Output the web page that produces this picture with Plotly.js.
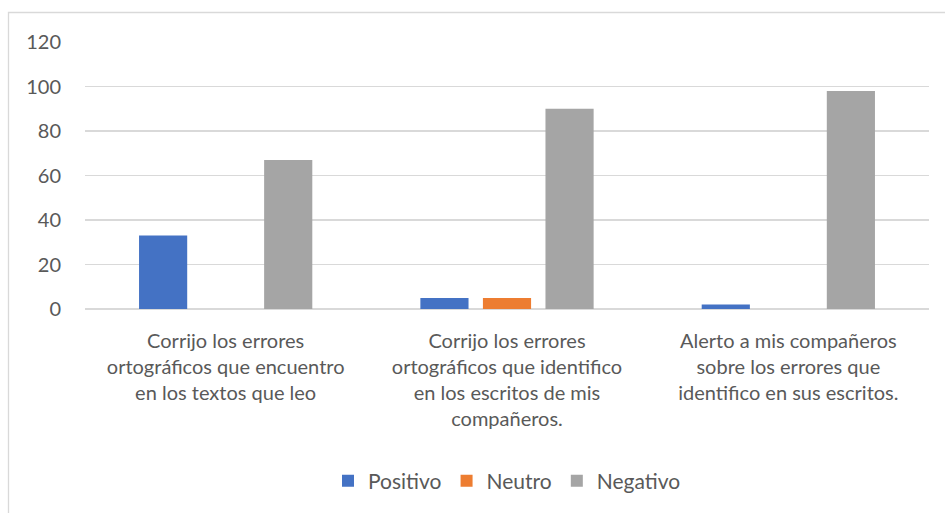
<!DOCTYPE html>
<html>
<head>
<meta charset="utf-8">
<script src="https://cdn.plot.ly/plotly-3.0.1.min.js"></script>
<style>
html,body{margin:0;padding:0;background:#fff;}
#chart{width:945px;height:513px;}
</style>
</head>
<body>
<div id="chart"></div>
<script>
const categories = [
  "Corrijo los errores<br>ortográficos que encuentro<br>en los textos que leo",
  "Corrijo los errores<br>ortográficos que identifico<br>en los escritos de mis<br>compañeros.",
  "Alerto a mis compañeros<br>sobre los errores que<br>identifico en sus escritos."
];
const positivo = [33, 5, 2];
const neutro = [0, 5, 0];
const negativo = [67, 90, 98];
const yTicks = [0, 20, 40, 60, 80, 100, 120];

const W = 945, H = 513;
const L = 85, R = 16, T = 42, B = 204;
const pw = W - L - R, ph = H - T - B;
function px(x){ return (x - L) / pw; }
function py(y){ return (H - B - y) / ph; }

const font = "Lato, 'Open Sans', 'Liberation Sans', sans-serif";
const txt = '#595959';
const fs = 20;

const data = [
  {type:'bar', name:'Positivo', x:categories, y:positivo, marker:{color:'#4472C4'}},
  {type:'bar', name:'Neutro', x:categories, y:neutro, marker:{color:'#ED7D31'}},
  {type:'bar', name:'Negativo', x:categories, y:negativo, marker:{color:'#A5A5A5'}}
];

const layout = {
  width: W, height: H,
  margin: {l:L, r:R, t:T, b:B, pad:0},
  paper_bgcolor:'#fff', plot_bgcolor:'#fff',
  barmode:'group', bargap:0.333, bargroupgap:0.23,
  font:{family:font, size:fs, color:txt},
  xaxis:{
    showgrid:false, zeroline:false, showline:false, ticks:'',
    tickfont:{family:font, size:fs, color:txt},
    ticklabelstandoff: 18
  },
  yaxis:{
    range:[0,120], tickvals:yTicks, ticktext:yTicks.map(String),
    showgrid:true, gridcolor:'#d9d9d9', gridwidth:1.3,
    zeroline:true, zerolinecolor:'#d9d9d9', zerolinewidth:1.3,
    showline:false, ticks:'', ticklabelstandoff: 23,
    tickfont:{family:font, size:fs, color:txt}
  },
  showlegend:true,
  legend:{orientation:'h', x:0.5, xanchor:'center', y:py(481), yanchor:'middle',
    font:{family:font, size:21, color:txt}, itemwidth:30, traceorder:'normal'},
  shapes:[
    {type:'rect', xref:'paper', yref:'paper', x0:px(8.5), x1:px(960), y0:py(12.5), y1:py(530),
     line:{color:'#d9d9d9', width:1.3}, fillcolor:'rgba(0,0,0,0)', layer:'below'}
  ]
};

Plotly.newPlot('chart', data, layout, {displayModeBar:false, staticPlot:true});
</script>
</body>
</html>
